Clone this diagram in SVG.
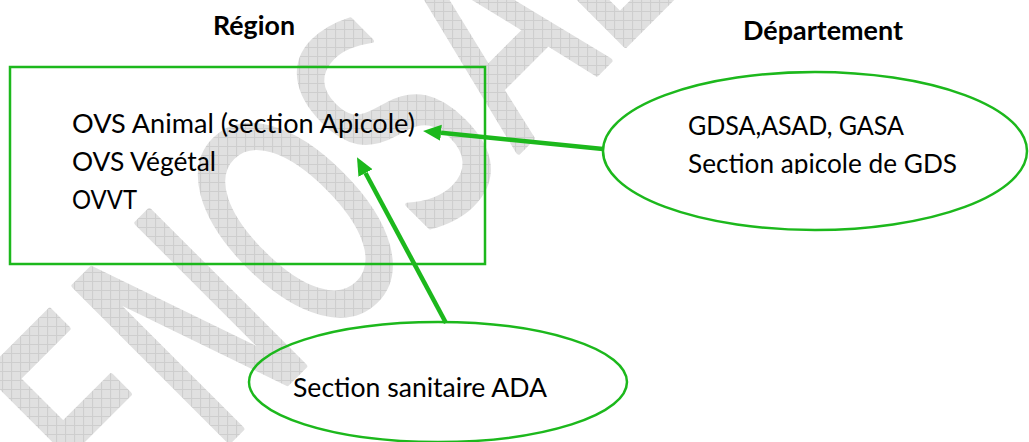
<svg xmlns="http://www.w3.org/2000/svg" width="1029" height="442" viewBox="0 0 1029 442">
  <style>
    .lbl { font-family: Lato, "Open Sans", "Liberation Sans", sans-serif; font-size: 27.5px; fill: #000; }
    .hdr { font-family: Lato, "Open Sans", "Liberation Sans", sans-serif; font-size: 27.5px; font-weight: bold; fill: #000; }
    .shape { fill: none; stroke: #1cb81c; stroke-width: 2.5; }
    .conn { fill: none; stroke: #1cb81c; stroke-width: 4.5; }
    .wm { font-family: "DejaVu Sans", sans-serif; font-size: 300px; }
  </style>
  <defs>
    <marker id="arrow" markerUnits="userSpaceOnUse" markerWidth="20" markerHeight="18" viewBox="0 -9 20 18" refX="0" refY="0" orient="auto">
      <path d="M0,-8 L18,0 L0,8 z" fill="#1cb81c"/>
    </marker>
    <pattern id="hatch" patternUnits="userSpaceOnUse" width="9" height="9" patternTransform="scale(1.5385,1) rotate(45)">
      <rect width="9" height="9" fill="#e0e0e0"/>
      <path d="M0,0.5 H9 M0.5,0 V9" stroke="#cdcdcd" stroke-width="1"/>
    </pattern>
    <clipPath id="clipR">
      <rect x="600" y="60" width="429" height="114"/>
    </clipPath>
  </defs>

  <g id="watermark">
    <text class="wm" fill="url(#hatch)" stroke="url(#hatch)" stroke-width="6" stroke-linejoin="round" transform="translate(128,542) rotate(-45) scale(0.65,1)">ENOSAE</text>
  </g>

  <g id="header-region">
    <text class="hdr" x="213" y="35" textLength="82" lengthAdjust="spacingAndGlyphs">Région</text>
  </g>
  <g id="header-departement">
    <text class="hdr" x="743" y="40" textLength="160" lengthAdjust="spacingAndGlyphs">Département</text>
  </g>

  <g id="node-region">
    <rect class="shape" x="10" y="67" width="475" height="197"/>
    <text class="lbl" x="72" y="133" textLength="343" lengthAdjust="spacingAndGlyphs">OVS Animal (section Apicole)</text>
    <text class="lbl" x="72" y="171" textLength="144" lengthAdjust="spacingAndGlyphs">OVS Végétal</text>
    <text class="lbl" x="72" y="209" textLength="65" lengthAdjust="spacingAndGlyphs">OVVT</text>
  </g>

  <g id="node-departement">
    <ellipse class="shape" cx="815" cy="151" rx="212" ry="79"/>
    <g clip-path="url(#clipR)">
      <text class="lbl" x="688" y="135" textLength="216" lengthAdjust="spacingAndGlyphs">GDSA,ASAD, GASA</text>
      <text class="lbl" x="688" y="173" textLength="269" lengthAdjust="spacingAndGlyphs">Section apicole de GDS</text>
    </g>
  </g>

  <g id="node-ada">
    <ellipse class="shape" cx="438" cy="382" rx="189" ry="60"/>
    <text class="lbl" x="293" y="397" textLength="254" lengthAdjust="spacingAndGlyphs">Section sanitaire ADA</text>
  </g>

  <g id="connectors">
    <path class="conn" d="M603,149 L441,132.8" marker-end="url(#arrow)"/>
    <path class="conn" d="M446,323 L365.5,173" marker-end="url(#arrow)"/>
  </g>
</svg>
